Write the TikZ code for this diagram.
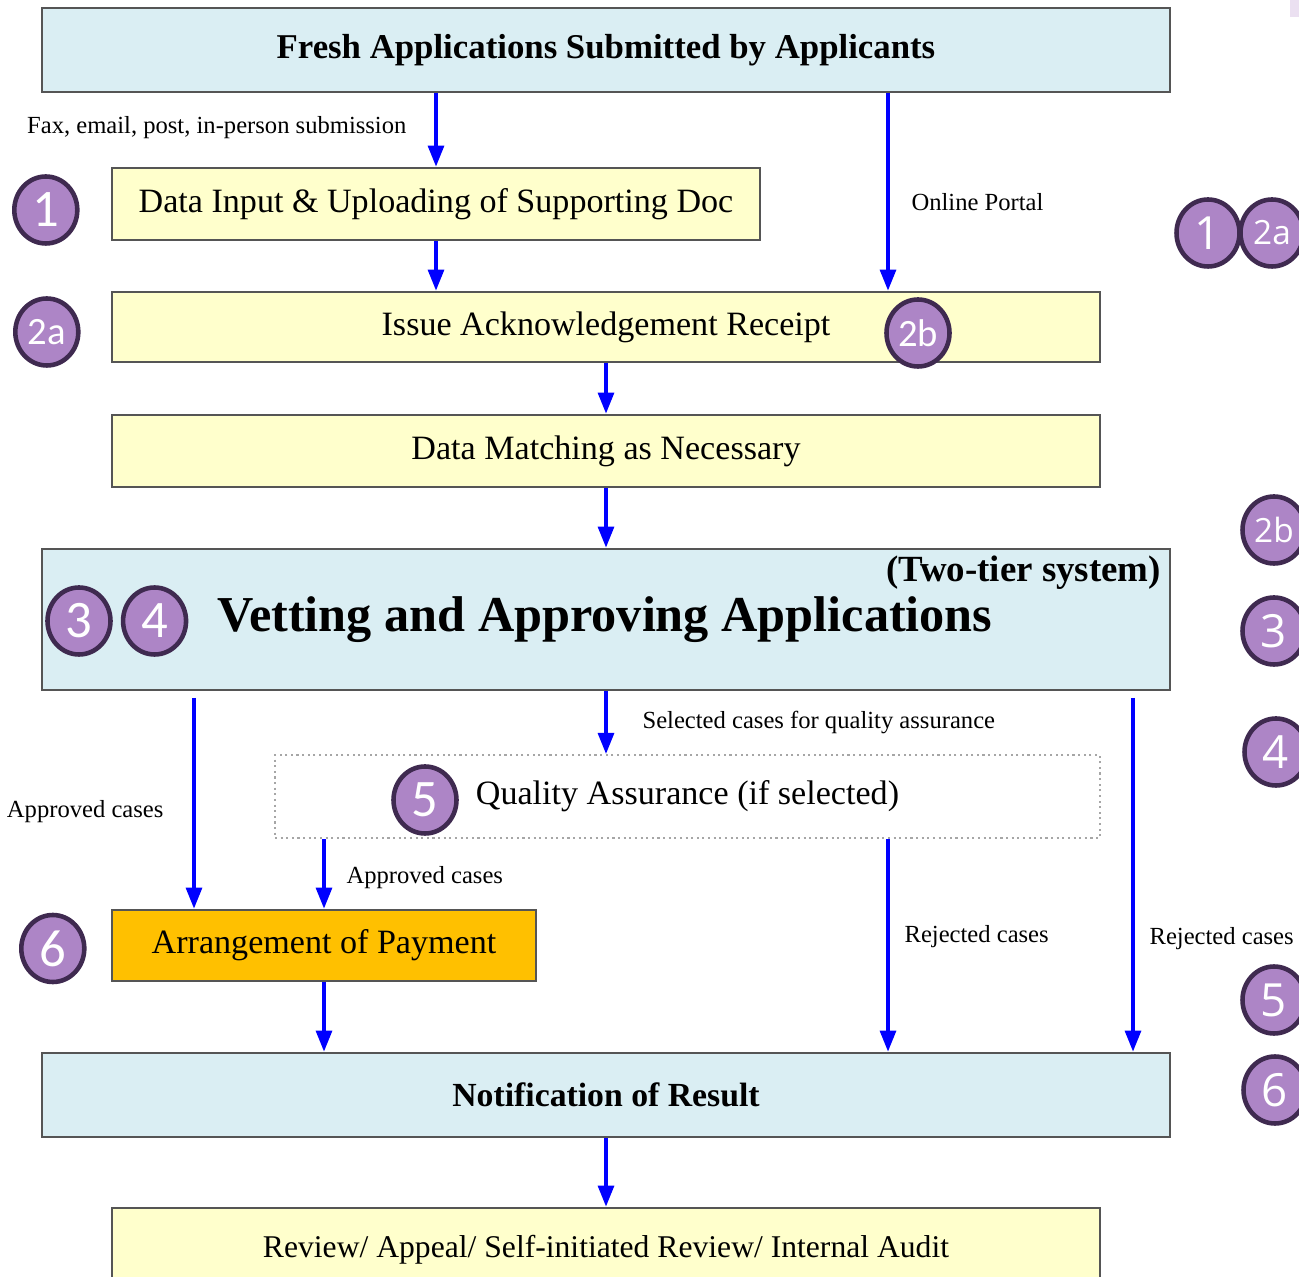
\documentclass[tikz,border=0pt]{standalone}
\usepackage{fontspec}
\setmainfont{Liberation Serif}
\newfontfamily\badgefont{Carlito}
\newfontfamily\badgefontr{Open Sans}
\usepackage{tikz}
\usetikzlibrary{positioning, arrows.meta, shapes.geometric}
\definecolor{boxblue}{HTML}{DAEEF3}
\definecolor{boxyellow}{HTML}{FFFFCC}
\definecolor{boxorange}{HTML}{FFC000}
\definecolor{badgefill}{HTML}{AD85C6}
\definecolor{badgeline}{HTML}{3F2A50}
\definecolor{frame}{HTML}{555555}

\begin{document}
\begin{tikzpicture}[line width=0.8pt]
	\tikzset{flow/.style={-{Triangle[length=0.21cm, width=0.16cm]}, blue, line width=0.9pt}}
	\tikzset{lbl/.style={text=black, font=\fontsize{7}{8}\selectfont, inner sep=0pt}}
	\tikzset{bluebox/.style={draw=frame, fill=boxblue, inner sep=0pt, font=\fontsize{9.9}{12}\selectfont\bfseries}}
	\tikzset{yellowbox/.style={draw=frame, fill=boxyellow, inner sep=0pt, font=\fontsize{9.7}{11}\selectfont}}
	\tikzset{paybox/.style={draw=frame, fill=boxorange, inner sep=0pt, font=\fontsize{9.7}{11}\selectfont}}
	\tikzset{qabox/.style={draw=black!35, densely dotted, line width=0.6pt, inner sep=0pt, font=\fontsize{9.7}{11}\selectfont}}
	\tikzset{badge/.style={ellipse, draw=badgeline, fill=badgefill, line width=1.3pt, text=white, inner sep=0pt, minimum width=0.63cm, minimum height=0.67cm, font=\badgefont\fontsize{15}{15}\selectfont}}
	\tikzset{smallbadge/.style={font=\badgefont\fontsize{11}{11}\selectfont}}
	\tikzset{rbadge/.style={font=\badgefontr\fontsize{13}{13}\selectfont}}
	\tikzset{rsmallbadge/.style={font=\badgefontr\fontsize{9.5}{10}\selectfont}}

	\useasboundingbox (0,0) rectangle (12.99,-12.77);
	\clip (0,0) rectangle (12.99,-12.77);
	\fill[badgefill!25] (12.90,0) rectangle (12.99,-0.17);

	% boxes
	\node (top) [bluebox, minimum width=11.28cm, minimum height=0.84cm] at (6.06,-0.50) {Fresh Applications Submitted by Applicants};
	\node (din) [yellowbox, minimum width=6.48cm, minimum height=0.72cm] at (4.36,-2.04) {Data Input \& Uploading of Supporting Doc};
	\node (ack) [yellowbox, minimum width=9.88cm, minimum height=0.70cm] at (6.06,-3.27) {Issue Acknowledgement Receipt};
	\node (match) [yellowbox, minimum width=9.88cm, minimum height=0.72cm] at (6.06,-4.51) {Data Matching as Necessary};
	\node (vet) [bluebox, minimum width=11.28cm, minimum height=1.41cm] at (6.06,-6.195) {};
	\node (vettext) [font=\fontsize{14.3}{16}\selectfont\bfseries] at (6.05,-6.20) {Vetting and Approving Applications};
	\node (tier) [font=\fontsize{10.5}{12}\selectfont\bfseries, inner sep=0pt] at (10.235,-5.73) {(Two-tier system)};
	\node (qa) [qabox, minimum width=8.25cm, minimum height=0.83cm] at (6.875,-7.965) {Quality Assurance (if selected)};
	\node (pay) [paybox, minimum width=4.24cm, minimum height=0.71cm] at (3.24,-9.455) {Arrangement of Payment};
	\node (notif) [bluebox, minimum width=11.28cm, minimum height=0.84cm, font=\fontsize{9.6}{12}\selectfont\bfseries] at (6.06,-10.95) {Notification of Result};
	\node (rev) [yellowbox, minimum width=9.88cm, minimum height=0.84cm, font=\fontsize{9.0}{11}\selectfont] at (6.06,-12.50) {Review/ Appeal/ Self-initiated Review/ Internal Audit};

	% badges
	\node (b1) [badge, left=0.31cm of din, yshift=-0.06cm] {1};
	\node (b2a) [badge, smallbadge, left=0.30cm of ack, yshift=-0.05cm] {2a};
	\node (b2b) [badge, smallbadge] at (9.18,-3.33) {2b};
	\node (b3) [badge] at (0.79,-6.21) {3};
	\node (b4) [badge, right=0.08cm of b3] {4};
	\node (b5) [badge] at (4.25,-8.00) {5};
	\node (b6) [badge, left=0.24cm of pay, yshift=-0.03cm] {6};

	\node (r1) [badge, rbadge] at (12.08,-2.33) {1};
	\node (r2a) [badge, rsmallbadge] at (12.72,-2.33) {2a};
	\node (r2b) [badge, rsmallbadge] at (12.74,-5.30) {2b};
	\node (r3) [badge, rbadge] at (12.74,-6.31) {3};
	\node (r4) [badge, rbadge] at (12.76,-7.52) {4};
	\node (r5) [badge, rbadge] at (12.74,-10.00) {5};
	\node (r6) [badge, rbadge] at (12.75,-10.90) {6};

	% connectors
	\coordinate (portal) at (8.88,0);
	\coordinate (appx) at (1.94,-6.98);
	\coordinate (rejx) at (11.33,-6.98);

	\draw [flow] (top.south -| din.north) -- node[lbl, left=0.28cm, pos=0.47]{Fax, email, post, in-person submission} (din.north);
	\draw [flow] (din.south) -- (ack.north -| din.south);
	\draw [flow] (top.south -| portal) -- node[lbl, right=0.22cm, pos=0.55]{Online Portal} (ack.north -| portal);
	\draw [flow] (ack.south) -- (match.north);
	\draw [flow] (match.south) -- (vet.north);
	\draw [flow] (vet.south) -- node[lbl, right=0.35cm, pos=0.5]{Selected cases for quality assurance} (qa.north -| vet.south);
	\draw [flow] (appx) -- node[lbl, left=0.29cm, pos=0.54]{Approved cases} (pay.north -| appx);
	\draw [flow] (qa.south -| pay.north) -- node[lbl, right=0.21cm, pos=0.55]{Approved cases} (pay.north);
	\draw [flow] (pay.south) -- (notif.north -| pay.south);
	\draw [flow] (qa.south -| portal) -- node[lbl, right=0.15cm, pos=0.46]{Rejected cases} (notif.north -| portal);
	\draw [flow] (rejx) -- node[lbl, right=0.15cm, pos=0.68]{Rejected cases} (notif.north -| rejx);
	\draw [flow] (notif.south) -- (rev.north);
\end{tikzpicture}
\end{document}
